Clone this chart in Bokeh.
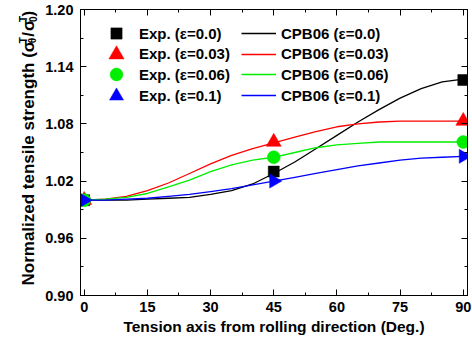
import math
from bokeh.plotting import figure
from bokeh.layouts import row
from bokeh.models import Range1d, LinearAxis, FixedTicker, Legend, LegendItem, Label
from bokeh.embed import file_html
from bokeh.resources import INLINE

# ---------------- data ----------------
exp_angle = [0, 45, 90]
exp_e000 = [1.000, 1.030, 1.126]
exp_e003 = [1.000, 1.061, 1.083]
exp_e006 = [1.000, 1.045, 1.061]
exp_e010 = [1.000, 1.020, 1.046]

cpb_angle = [0, 5, 10, 15, 20, 25, 30, 35, 40, 45, 50, 55, 60, 65, 70, 75, 80, 85, 90]
cpb_e000 = [1.000, 1.000, 1.000, 1.001, 1.002, 1.003, 1.006, 1.010, 1.017, 1.028,
            1.040, 1.054, 1.068, 1.082, 1.095, 1.107, 1.117, 1.124, 1.127]
cpb_e003 = [1.000, 1.001, 1.004, 1.010, 1.018, 1.028, 1.038, 1.047, 1.054, 1.060,
            1.066, 1.072, 1.077, 1.080, 1.082, 1.083, 1.083, 1.083, 1.083]
cpb_e006 = [1.000, 1.001, 1.003, 1.007, 1.014, 1.021, 1.030, 1.037, 1.042, 1.045,
            1.050, 1.055, 1.058, 1.0595, 1.061, 1.061, 1.061, 1.061, 1.061]
cpb_e010 = [1.000, 1.000, 1.001, 1.002, 1.004, 1.006, 1.009, 1.012, 1.016, 1.020,
            1.024, 1.028, 1.032, 1.036, 1.039, 1.042, 1.044, 1.045, 1.046]

exp_labels = ["Exp. (ε=0.0)", "Exp. (ε=0.03)", "Exp. (ε=0.06)", "Exp. (ε=0.1)"]
cpb_labels = ["CPB06 (ε=0.0)", "CPB06 (ε=0.03)", "CPB06 (ε=0.06)", "CPB06 (ε=0.1)"]

x_ticks = [0, 15, 30, 45, 60, 75, 90]
x_tick_labels = ["0", "15", "30", "45", "60", "75", "90"]
y_ticks = [0.90, 0.96, 1.02, 1.08, 1.14, 1.20]
y_tick_labels = ["0.90", "0.96", "1.02", "1.08", "1.14", "1.20"]

x_title = "Tension axis from rolling direction (Deg.)"
y_title_main = "Normalized tensile strength ("

# ---------------- style ----------------
colors = ["#000000", "#ff0000", "#00ee00", "#0000ff"]
markers = ["square", "triangle", "circle", "triangle"]
msizes = [11, 15, 13, 14]
mangles = [0, 0, 0, -math.pi / 2]
FONT = "Liberation Sans"

XR = (-0.88, 91.0)
YR = (0.90, 1.20)
W, H = 472, 346
LW = 42                      # width of the strip holding the y title
BL, BR, BT, BB = 79 - LW, 5, 9, 51
FH = H - BT - BB

p = figure(width=W - LW, height=H, x_range=Range1d(*XR), y_range=Range1d(*YR),
           output_backend="svg", toolbar_location=None,
           min_border_left=BL, min_border_right=BR, min_border_top=BT, min_border_bottom=BB,
           background_fill_color="white", border_fill_color="white",
           outline_line_color="black", outline_line_width=1)
p.grid.visible = False

x_minor = [(a + b) / 2 for a, b in zip(x_ticks[:-1], x_ticks[1:])]
y_minor = [round((a + b) / 2, 4) for a, b in zip(y_ticks[:-1], y_ticks[1:])]


def style_axis(ax, ticks, minor, labels, show):
    ax.ticker = FixedTicker(ticks=ticks, minor_ticks=minor)
    ax.major_tick_in = 6
    ax.major_tick_out = 0
    ax.minor_tick_in = 3
    ax.minor_tick_out = 0
    ax.axis_line_color = "black"
    ax.major_tick_line_color = "black"
    ax.minor_tick_line_color = "black"
    if show:
        ax.major_label_overrides = {t: l for t, l in zip(ticks, labels)}
        ax.major_label_text_font = FONT
        ax.major_label_text_font_style = "bold"
        ax.major_label_text_font_size = "14.5px"
        ax.major_label_text_color = "black"
    else:
        ax.major_label_overrides = {t: "" for t in ticks}
        ax.major_label_text_font_size = "0px"
        ax.major_label_standoff = 0


xa = p.xaxis[0]
ya = p.yaxis[0]
style_axis(xa, x_ticks, x_minor, x_tick_labels, True)
style_axis(ya, y_ticks, y_minor, y_tick_labels, True)
xa.major_label_standoff = 6
ya.major_label_standoff = 7
xa.axis_label = x_title
xa.axis_label_text_font = FONT
xa.axis_label_text_font_style = "bold"
xa.axis_label_text_font_size = "15.5px"
xa.axis_label_text_color = "black"
xa.axis_label_standoff = 3

top = LinearAxis()
right = LinearAxis()
style_axis(top, x_ticks, x_minor, x_tick_labels, False)
style_axis(right, y_ticks, y_minor, y_tick_labels, False)
p.add_layout(top, "above")
p.add_layout(right, "right")

# ---------------- glyphs ----------------
exp_series = [exp_e000, exp_e003, exp_e006, exp_e010]
cpb_series = [cpb_e000, cpb_e003, cpb_e006, cpb_e010]

line_r = []
for ys, c in zip(cpb_series, colors):
    line_r.append(p.line(cpb_angle, ys, line_color=c, line_width=1.3))

mark_r = []
for ys, c, m, s, a in zip(exp_series, colors, markers, msizes, mangles):
    mark_r.append(p.scatter(exp_angle, ys, marker=m, size=s, angle=a,
                            fill_color=c, line_color=c, line_width=0.5))

# ---------------- legends ----------------
row_off = [24.0, 44.7, 65.4, 86.1]


def make_legend(label, r, loc, gw, gh, standoff):
    return Legend(items=[LegendItem(label=label, renderers=[r])], location=loc,
                  glyph_width=gw, glyph_height=gh, label_height=16, label_standoff=standoff,
                  padding=0, margin=0, spacing=0, border_line_color=None,
                  background_fill_alpha=0, label_text_font=FONT,
                  label_text_font_style="bold", label_text_font_size="15px",
                  label_text_color="black")


for i in range(4):
    gh = int(round(msizes[i] / 0.4))
    leg = make_legend(exp_labels[i], mark_r[i], (17, FH - row_off[i] - gh / 2), 38, gh, 4)
    p.add_layout(leg)
    leg2 = make_legend(cpb_labels[i], line_r[i], (161, FH - row_off[i] - 9), 35, 18, 5)
    p.add_layout(leg2)

# ---------------- y title strip (rich text with sub/superscripts) ----------------
# the strip's frame gets the same top/bottom borders as the main plot, and its
# ranges map 1:1 onto page pixels (y counted from the bottom of the page)
lf = figure(width=LW, height=H, x_range=Range1d(0, LW), y_range=Range1d(BB, H - BT),
            output_backend="svg", toolbar_location=None,
            x_axis_location=None, y_axis_location=None,
            min_border_left=0, min_border_right=0, min_border_top=BT, min_border_bottom=BB,
            outline_line_color=None, background_fill_color="white", border_fill_color="white")
lf.grid.visible = False

big, small = 17, 10
adv_main = 13.725 * big
adv_sig = 9.0
adv_ss = 5.5
adv_slash = 0.278 * big
gap = 1.0
bx, sbx, spx = 28, 32, 22.5    # baselines: main, subscript, superscript (px from left)


def add_lbl(txt, px, py, size):
    lf.add_layout(Label(x=px, y=H - py, text=txt, angle=math.pi / 2,
                        text_align="left", text_baseline="alphabetic",
                        text_font=FONT, text_font_style="bold",
                        text_font_size=f"{size}px", text_color="black"))


cur = 285.0
add_lbl(y_title_main, bx, cur, big)
cur -= adv_main
add_lbl("σ", bx, cur, big)
cur -= adv_sig
add_lbl("θ", sbx, cur, small)
add_lbl("T", spx, cur, small)
cur -= adv_ss + gap
add_lbl("/", bx, cur, big)
cur -= adv_slash + gap
add_lbl("σ", bx, cur, big)
cur -= adv_sig
add_lbl("0", sbx, cur, small)
add_lbl("T", spx, cur, small)
cur -= adv_ss
add_lbl(")", bx, cur, big)

layout = row(lf, p)
open("out.html", "w").write(file_html(layout, INLINE))
